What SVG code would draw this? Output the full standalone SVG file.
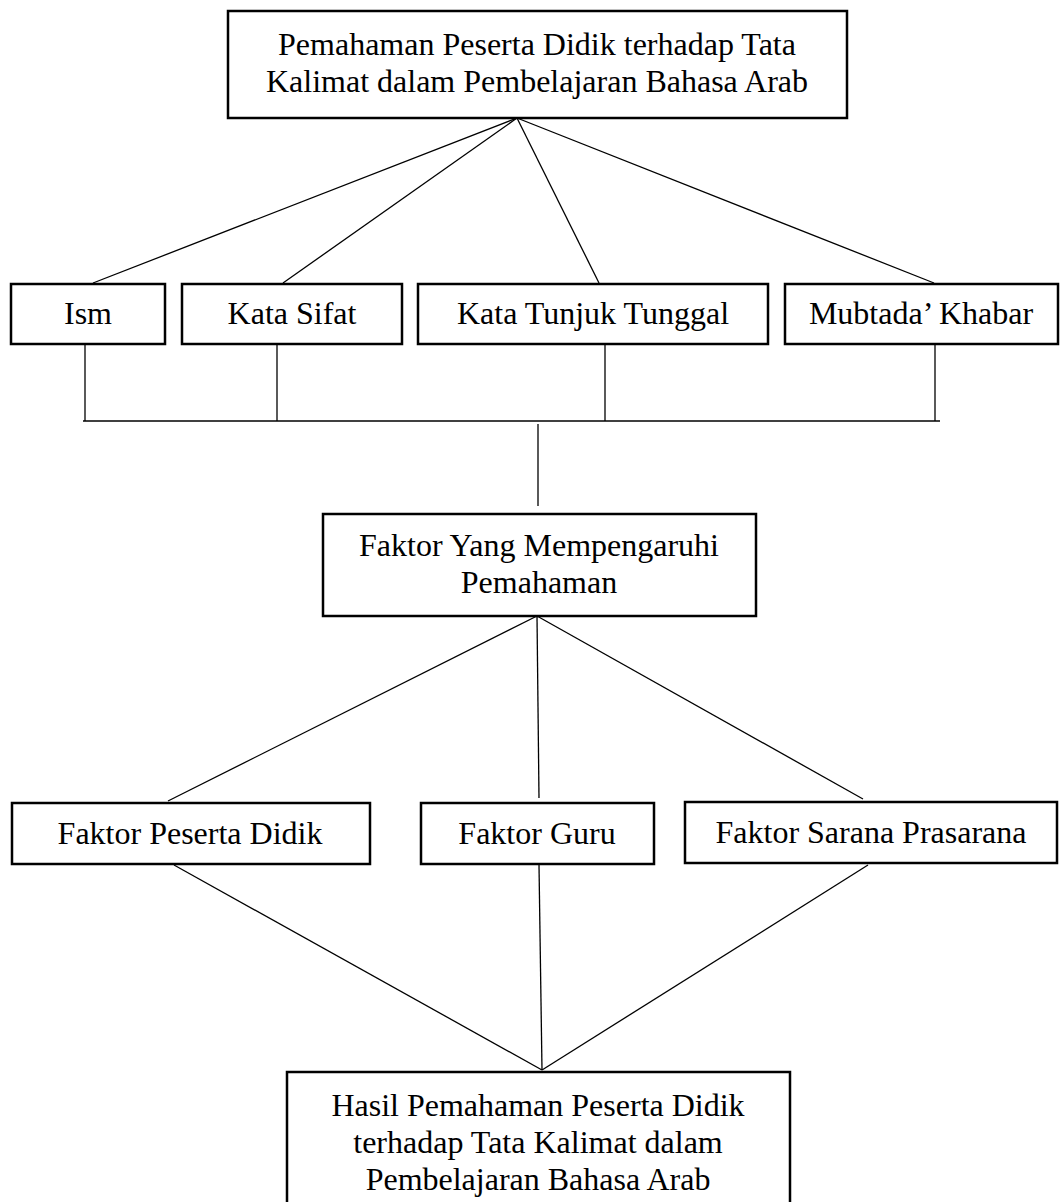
<svg xmlns="http://www.w3.org/2000/svg" width="1061" height="1202" viewBox="0 0 1061 1202">
<style>
.box{fill:#fff;stroke:#000;stroke-width:2.5}
.t{font-family:"Liberation Serif","Times New Roman",serif;font-size:32px;fill:#000;text-anchor:middle}
.c{stroke:#000;stroke-width:1.3;fill:none}
</style>
<rect width="1061" height="1202" fill="#fff"/>
<g id="connectors">
<line class="c" x1="517" y1="118" x2="93" y2="283"/>
<line class="c" x1="517" y1="118" x2="283" y2="283"/>
<line class="c" x1="517" y1="118" x2="599" y2="283"/>
<line class="c" x1="517" y1="118" x2="934" y2="283"/>
<line class="c" x1="85" y1="344" x2="85" y2="421"/>
<line class="c" x1="277" y1="344" x2="277" y2="421"/>
<line class="c" x1="605" y1="344" x2="605" y2="421"/>
<line class="c" x1="935" y1="344" x2="935" y2="421"/>
<line class="c" x1="83" y1="421" x2="940" y2="421"/>
<line class="c" x1="538" y1="424" x2="538" y2="506"/>
<line class="c" x1="537" y1="616" x2="168" y2="801"/>
<line class="c" x1="537" y1="616" x2="539" y2="798"/>
<line class="c" x1="537" y1="616" x2="863" y2="799"/>
<line class="c" x1="174" y1="865" x2="542" y2="1070"/>
<line class="c" x1="539" y1="865" x2="542" y2="1070"/>
<line class="c" x1="868" y1="865" x2="542" y2="1070"/>
</g>
<g id="top">
<rect class="box" x="228" y="11" width="619" height="107"/>
<text class="t" x="537" y="55">Pemahaman Peserta Didik terhadap Tata</text>
<text class="t" x="537" y="92">Kalimat dalam Pembelajaran Bahasa Arab</text>
</g>
<g id="ism">
<rect class="box" x="11" y="284" width="154" height="60"/>
<text class="t" x="88" y="324">Ism</text>
</g>
<g id="sifat">
<rect class="box" x="182" y="284" width="220" height="60"/>
<text class="t" x="292" y="324">Kata Sifat</text>
</g>
<g id="tunjuk">
<rect class="box" x="418" y="284" width="350" height="60"/>
<text class="t" x="593" y="324">Kata Tunjuk Tunggal</text>
</g>
<g id="mubtada">
<rect class="box" x="785" y="284" width="273" height="60"/>
<text class="t" x="921" y="324">Mubtada’ Khabar</text>
</g>
<g id="faktor">
<rect class="box" x="323" y="514" width="433" height="102"/>
<text class="t" x="539" y="556">Faktor Yang Mempengaruhi</text>
<text class="t" x="539" y="593">Pemahaman</text>
</g>
<g id="peserta">
<rect class="box" x="12" y="803" width="358" height="61"/>
<text class="t" x="190" y="844">Faktor Peserta Didik</text>
</g>
<g id="guru">
<rect class="box" x="421" y="803" width="233" height="61"/>
<text class="t" x="537" y="844">Faktor Guru</text>
</g>
<g id="sarana">
<rect class="box" x="685" y="802" width="372" height="61"/>
<text class="t" x="871" y="843">Faktor Sarana Prasarana</text>
</g>
<g id="hasil">
<rect class="box" x="287" y="1072" width="503" height="140"/>
<text class="t" x="538" y="1116">Hasil Pemahaman Peserta Didik</text>
<text class="t" x="538" y="1153">terhadap Tata Kalimat dalam</text>
<text class="t" x="538" y="1190">Pembelajaran Bahasa Arab</text>
</g>
</svg>
